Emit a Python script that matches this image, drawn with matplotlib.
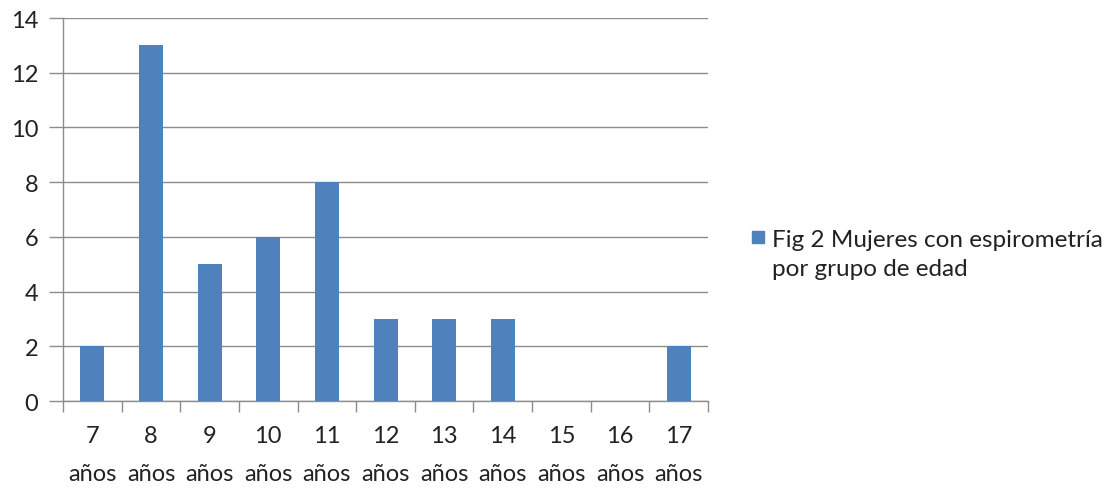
import numpy as np
import matplotlib.pyplot as plt
from matplotlib.patches import Rectangle

edades = ["7", "8", "9", "10", "11", "12", "13", "14", "15", "16", "17"]
mujeres = [2, 13, 5, 6, 8, 3, 3, 3, 0, 0, 2]
y_ticks = [0, 2, 4, 6, 8, 10, 12, 14]
serie = ["Fig 2 Mujeres con espirometría", "por grupo de edad"]

plt.rcParams["font.family"] = ["Lato", "DejaVu Sans"]
azul = "#4F81BD"
gris = "#8c8c8c"
texto = "#222222"

fig = plt.figure(figsize=(11.12, 4.89), dpi=100)
ax = fig.add_axes([0.0567, 0.1779, 0.58, 0.7832])

x = np.arange(len(edades))
ax.bar(x, mujeres, width=0.41, color=azul, zorder=3)

ax.set_xlim(-0.5, len(edades) - 0.5)
ax.set_ylim(0, 14)
ax.set_yticks(y_ticks)
ax.set_yticklabels([str(v) for v in y_ticks], fontsize=17, color=texto)
ax.yaxis.grid(True, color=gris, linewidth=1.0, zorder=0)
ax.tick_params(axis="y", length=10, width=1.0, color=gris, pad=8)

ax.set_xticks(x)
ax.set_xticklabels([e + "\naños" for e in edades], fontsize=17, color=texto,
                   linespacing=2.05)
ax.tick_params(axis="x", which="major", length=0, pad=17)
ax.set_xticks(np.arange(-0.5, len(edades)), minor=True)
ax.tick_params(axis="x", which="minor", length=8, width=1.0, color=gris)

for side in ["top", "right"]:
    ax.spines[side].set_visible(False)
for side in ["left", "bottom"]:
    ax.spines[side].set_color(gris)
    ax.spines[side].set_linewidth(1.0)

# legend drawn by hand so the marker sits beside the first line
fig.patches.append(Rectangle((0.6763, 0.501), 0.0108, 0.0245, color=azul,
                             transform=fig.transFigure, figure=fig))
fig.text(0.6942, 0.509, serie[0], fontsize=17.5, color=texto, va="center")
fig.text(0.6942, 0.448, serie[1], fontsize=17.5, color=texto, va="center")

fig.savefig("out.png", dpi=100)
